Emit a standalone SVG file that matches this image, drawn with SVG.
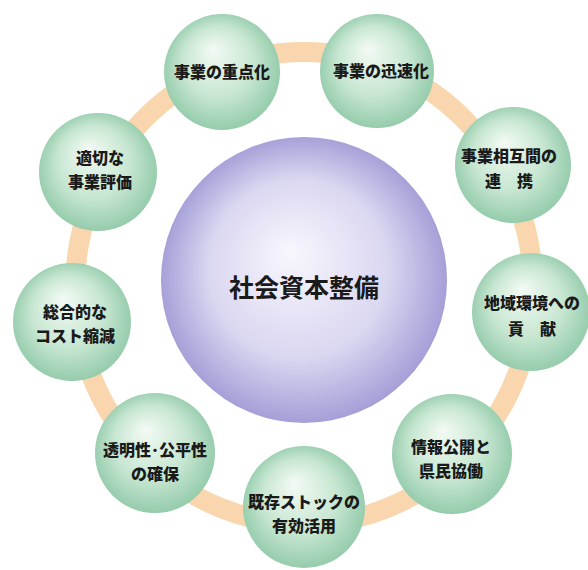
<svg xmlns="http://www.w3.org/2000/svg" width="588" height="570" viewBox="0 0 588 570">
<defs>
<radialGradient id="g" cx="0.5" cy="0.5" r="0.55" fx="0.42" fy="0.3">
<stop offset="0" stop-color="#f3faf4"/>
<stop offset="0.55" stop-color="#c8e7d2"/>
<stop offset="1" stop-color="#8cc7a5"/>
</radialGradient>
<radialGradient id="p" cx="0.5" cy="0.5" r="0.52" fx="0.45" fy="0.4">
<stop offset="0" stop-color="#f8f7fd"/>
<stop offset="0.6" stop-color="#dad7f1"/>
<stop offset="1" stop-color="#a09ad5"/>
</radialGradient>
<style>
.n{fill:url(#g)}
.t{font-family:"Noto Sans CJK JP","Noto Sans CJK SC",sans-serif;font-weight:900;font-size:16px;fill:#1a1a1a;text-anchor:middle;dominant-baseline:central}
.c{font-family:"Noto Sans CJK JP","Noto Sans CJK SC",sans-serif;font-weight:700;font-size:25px;fill:#1a1a1a;text-anchor:middle;dominant-baseline:central}
</style>
</defs>
<rect width="588" height="570" fill="#ffffff"/>
<g id="connectors">
<ellipse cx="304" cy="288" rx="229" ry="236" fill="none" stroke="#f9d6ad" stroke-width="20"/>
</g>
<g id="center">
<circle cx="304" cy="280" r="143" fill="url(#p)"/>
<text class="c" x="304" y="286">社会資本整備</text>
</g>
<g id="n1"><circle class="n" cx="222" cy="72" r="58"/><text class="t" x="222" y="71">事業の重点化</text></g>
<g id="n2"><circle class="n" cx="377" cy="71" r="57"/><text class="t" x="381" y="70">事業の迅速化</text></g>
<g id="n3"><circle class="n" cx="513" cy="165" r="58"/><text class="t" x="509" y="155">事業相互間の</text><text class="t" x="509" y="180">連　携</text></g>
<g id="n4"><circle class="n" cx="531" cy="312" r="59"/><text class="t" x="532" y="302">地域環境への</text><text class="t" x="532" y="328">貢　献</text></g>
<g id="n5"><circle class="n" cx="452" cy="454" r="60"/><text class="t" x="451" y="446">情報公開と</text><text class="t" x="451" y="470">県民協働</text></g>
<g id="n6"><circle class="n" cx="304" cy="507" r="61"/><text class="t" x="304" y="501">既存ストックの</text><text class="t" x="304" y="525">有効活用</text></g>
<g id="n7"><circle class="n" cx="155" cy="453" r="60"/><text class="t" x="155" y="449">透明性･公平性</text><text class="t" x="155" y="473">の確保</text></g>
<g id="n8"><circle class="n" cx="72" cy="322" r="59"/><text class="t" x="75" y="311">総合的な</text><text class="t" x="75" y="335">コスト縮減</text></g>
<g id="n9"><circle class="n" cx="98" cy="172" r="59"/><text class="t" x="100" y="157">適切な</text><text class="t" x="100" y="181">事業評価</text></g>
</svg>
